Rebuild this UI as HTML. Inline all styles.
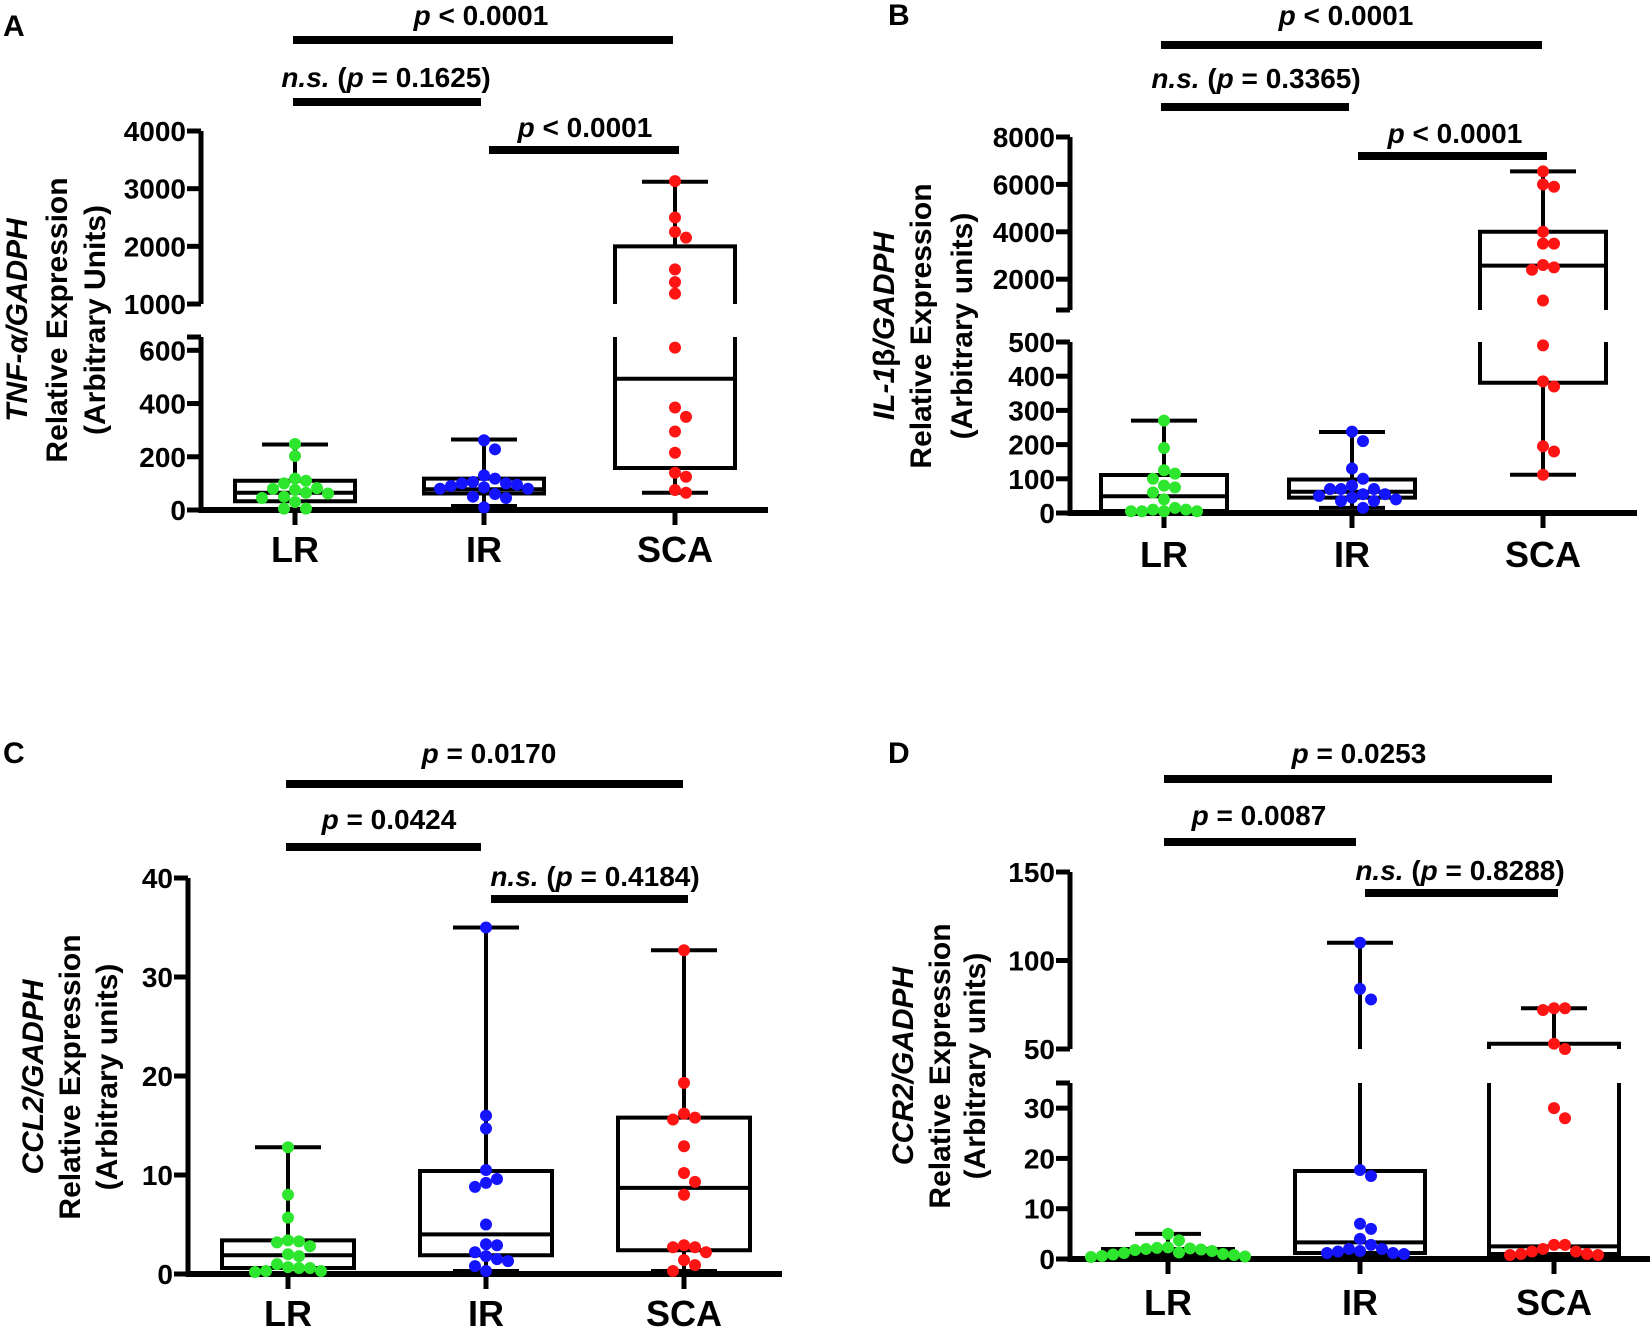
<!DOCTYPE html>
<html><head><meta charset="utf-8"><style>
html,body{margin:0;padding:0;background:#fff;}
svg{display:block;font-family:"Liberation Sans",sans-serif;font-weight:bold;}
</style></head><body>
<svg id="fig" width="1650" height="1330" viewBox="0 0 1650 1330" xmlns="http://www.w3.org/2000/svg"></svg>
<script>
// ===== DATA =====
const groups = ["LR","IR","SCA"];
// Panel A: TNF-alpha
const aTicks = [0,200,400,600,1000,2000,3000,4000];
const aLR  = [248,203,118,110,80,75,82,62,45,50,30,5,5,65,100];
const aIR  = [262,228,130,118,105,100,100,95,90,85,80,80,60,50,45,10];
const aSCA = [3130,2500,2250,2150,1600,1380,1180,610,385,350,295,215,140,125,75,65];
const aBoxLR  = [0,33,65,110,246];
const aBoxIR  = [15,62,78,118,265];
const aBoxSCA = [65,158,493,2000,3120];
// Panel B: IL-1beta
const bTicks = [0,100,200,300,400,500,2000,4000,6000,8000];
const bLR  = [270,190,125,115,100,75,80,60,40,15,10,5,5,5,5,10];
const bIR  = [238,210,130,100,80,70,55,40,35,50,45,55,70,70,15,35];
const bSCA = [6550,6000,5900,4000,3500,3500,2600,2500,2400,1100,490,385,370,195,180,112];
const bBoxLR  = [0,6,49,111,270];
const bBoxIR  = [15,45,62,98,237];
const bBoxSCA = [112,381,2570,4000,6550];
// Panel C: CCL2
const cTicks = [0,10,20,30,40];
const cLR  = [12.8,8,5.7,3.4,3.3,3.2,2.8,2,1.8,1,0.7,0.6,0.3,0.2,0.3,0.6];
const cIR  = [35,16,14.7,10.5,9.6,9.2,8.8,5,3,2.9,2.2,1.8,1.3,1.5,0.8,0.3];
const cSCA = [32.7,19.3,16.2,15.8,15.6,12.9,10.2,9.3,8,2.9,2.7,2.7,2.2,1.4,0.9,0.3];
const cBoxLR  = [0,0.6,1.9,3.4,12.8];
const cBoxIR  = [0.3,1.9,4.0,10.4,35];
const cBoxSCA = [0.3,2.4,8.7,15.8,32.7];
// Panel D: CCR2
const dTicks = [0,10,20,30,50,100,150];
const dLR  = [5,3.7,2.3,2.1,2,1.9,1.8,1.6,1.2,1,0.8,0.6,0.4,0.5,0.9,1.3,2.2];
const dIR  = [110,84,78,17.7,16.5,7,6,4,2.8,2,1.5,1.2,1,1.2,1.6,2];
const dSCA = [73,72,73,53,50,30,28,2.8,2,1.5,1,0.8,0.8,1,1.5,2.8];
const dBoxLR  = [0,1,1.5,2,5];
const dBoxIR  = [0.8,1.2,3.3,17.5,110];
const dBoxSCA = [0.5,1,2.5,53,73];

const colors = ["#2ee62e","#1414ff","#ff1414"];
const NS = "http://www.w3.org/2000/svg";
const svg = document.getElementById("fig");

function mk(tag, attrs, parent){
  const e = document.createElementNS(NS, tag);
  for (const k in attrs) e.setAttribute(k, attrs[k]);
  (parent||svg).appendChild(e);
  return e;
}

function drawPanel(P){
  const g = mk("g", {});
  
  
  const segs = P.segs;
  function yOf(v){
    for (const s of segs){ if (v >= s.lo - 1e-9 && v <= s.hi + 1e-9) return s.y0 + (v - s.lo)/(s.hi - s.lo)*(s.y1 - s.y0); }
    let best = null;
    for (const s of segs){ if (v < s.lo){ best = s.y0; break; } }
    return best === null ? segs[segs.length-1].y1 : best;
  }
  function vline(x, v1, v2, sw, parent, name){
    for (const s of segs){
      const a = Math.max(v1, s.lo), b = Math.min(v2, s.hi);
      if (a <= b){
        const l = mk("line", {x1:x, x2:x, y1:yOf(a), y2:yOf(b), stroke:"#000", "stroke-width":sw}, parent);
        
        
      }
    }
  }
  function inSeg(v){ return segs.some(s => v >= s.lo - 1e-9 && v <= s.hi + 1e-9); }
  const ax = P.axisX, y0 = segs[0].y0;
  const L = mk("text", {x:P.letter[0], y:P.letter[1], "font-size":30}, g);
  L.textContent = P.id;
  
  
  segs.forEach((s, i) => {
    const top = s.y1, bot = i === 0 ? y0 + 3 : s.y0;
    const l = mk("line", {x1:ax, x2:ax, y1:bot, y2:top, stroke:"#000", "stroke-width":5}, g);
    
    
    [s.y0, s.y1].forEach(yy => {
      if (i === 0 && yy === s.y0) return;
      const t = mk("line", {x1:ax-14, x2:ax, y1:yy, y2:yy, stroke:"#000", "stroke-width":5}, g);
      
      
    });
  });
  P.ticks.forEach(v => {
    const yy = yOf(v);
    const t = mk("line", {x1:ax-14, x2:ax, y1:yy, y2:yy, stroke:"#000", "stroke-width":5}, g);
    
    
    const tx = mk("text", {x:ax-15, y:yy+10, "text-anchor":"end", "font-size":28}, g);
    tx.textContent = String(v);
    
    
  });
  const xa = mk("line", {x1:ax-2, x2:P.xEnd, y1:y0, y2:y0, stroke:"#000", "stroke-width":6}, g);
  
  
  P.title.forEach((ln, i) => {
    const t = mk("text", {x:ln.x + 11, y:P.titleCY, "text-anchor":"middle", "font-size":30, transform:`rotate(-90 ${ln.x+11} ${P.titleCY})`}, g);
    t.innerHTML = ln.html;
    
    
  });
  groups.forEach((name, gi) => {
    const cx = P.cats[gi], hw = P.hw, box = P.boxes[gi], pts = P.points[gi];
    const gg = mk("g", {}, g);
    
    
    const tk = mk("line", {x1:cx, x2:cx, y1:y0, y2:y0+15, stroke:"#000", "stroke-width":5}, gg);
    
    
    const cl = mk("text", {x:cx, y:P.catY, "text-anchor":"middle", "font-size":36}, gg);
    cl.textContent = name;
    
    
    vline(cx, box[0], box[4], 4, gg, 'whisker');
    [box[0], box[4]].forEach(v => {
      if (!inSeg(v)) return;
      const c = mk("line", {x1:cx-33, x2:cx+33, y1:yOf(v), y2:yOf(v), stroke:"#000", "stroke-width":4}, gg);
      
      
    });
    for (const s of segs){
      const a = Math.max(box[1], s.lo), b = Math.min(box[3], s.hi);
      if (a <= b){
        const r = mk("rect", {x:cx-hw, y:yOf(b), width:2*hw, height:Math.max(0, yOf(a)-yOf(b)), fill:"#fff"}, gg);
        
        
      }
    }
    vline(cx-hw, box[1], box[3], 4, gg, 'box-side');
    vline(cx+hw, box[1], box[3], 4, gg, 'box-side');
    [[box[1],'box-q1'],[box[2],'box-median'],[box[3],'box-q3']].forEach(([v,nm]) => {
      if (!inSeg(v)) return;
      const l = mk("line", {x1:cx-hw-2, x2:cx+hw+2, y1:yOf(v), y2:yOf(v), stroke:"#000", "stroke-width":4}, gg);
      
      
    });
    const placed = [], d = 11;
    const order = pts.map((v,i)=>i).sort((a,b)=>pts[b]-pts[a]);
    order.forEach(i => {
      const py = yOf(pts[i]);
      let off = 0;
      for (let k = 0; k < 40; k++){
        const cand = k === 0 ? 0 : (k % 2 ? 1 : -1) * Math.ceil(k/2) * d;
        if (!placed.some(p => Math.hypot(p[0]-(cx+cand), p[1]-py) < d)) { off = cand; break; }
      }
      placed.push([cx+off, py]);
      const c = mk("circle", {cx:cx+off, cy:py, r:6, fill:colors[gi]}, gg);
      
      
    });
  });
  P.sig.forEach(s => {
    const r = mk("rect", {x:s.x1, y:s.y-4, width:s.x2-s.x1, height:8, fill:"#000"}, g);
    
    
    const t = mk("text", {x:s.tx, y:s.ty, "text-anchor":"middle", "font-size":28}, g);
    t.innerHTML = s.html;
    
    
  });
}

const P_LT = '<tspan font-style="italic">p</tspan> &lt; 0.0001';
function ns(v){ return '<tspan font-style="italic">n.s.</tspan> (<tspan font-style="italic">p</tspan> = ' + v + ')'; }
function peq(v){ return '<tspan font-style="italic">p</tspan> = ' + v; }

drawPanel({id:"A", letter:[3,36], axisX:201, xEnd:768, cats:[295,484,675], hw:60, catY:562,
  segs:[{lo:0,hi:650,y0:510,y1:337},{lo:1000,hi:4000,y0:304,y1:131}],
  ticks:aTicks, boxes:[aBoxLR,aBoxIR,aBoxSCA], points:[aLR,aIR,aSCA],
  titleCY:320, title:[{x:16,html:'<tspan font-style="italic">TNF-α/GADPH</tspan>'},{x:56,html:'Relative Expression'},{x:94,html:'(Arbitrary Units)'}],
  sig:[{x1:293,x2:673,y:40,tx:481,ty:25,html:P_LT},{x1:293,x2:481,y:102,tx:386,ty:87,html:ns('0.1625')},{x1:489,x2:679,y:150,tx:585,ty:137,html:P_LT}]});

drawPanel({id:"B", letter:[888,25], axisX:1070, xEnd:1637, cats:[1164,1352,1543], hw:63, catY:567,
  segs:[{lo:0,hi:500,y0:513,y1:342},{lo:700,hi:8000,y0:310,y1:137}],
  ticks:bTicks, boxes:[bBoxLR,bBoxIR,bBoxSCA], points:[bLR,bIR,bSCA],
  titleCY:326, title:[{x:883,html:'<tspan font-style="italic">IL-1</tspan>β<tspan font-style="italic">/GADPH</tspan>'},{x:920,html:'Relative Expression'},{x:961,html:'(Arbitrary units)'}],
  sig:[{x1:1161,x2:1542,y:45,tx:1346,ty:25,html:P_LT},{x1:1161,x2:1349,y:107,tx:1256,ty:88,html:ns('0.3365')},{x1:1358,x2:1547,y:156,tx:1455,ty:143,html:P_LT}]});

drawPanel({id:"C", letter:[3,763], axisX:188, xEnd:782, cats:[288,486,684], hw:66, catY:1326,
  segs:[{lo:0,hi:40,y0:1274,y1:878}],
  ticks:cTicks, boxes:[cBoxLR,cBoxIR,cBoxSCA], points:[cLR,cIR,cSCA],
  titleCY:1077, title:[{x:32,html:'<tspan font-style="italic">CCL2/GADPH</tspan>'},{x:69,html:'Relative Expression'},{x:106,html:'(Arbitrary units)'}],
  sig:[{x1:286,x2:683,y:784,tx:489,ty:763,html:peq('0.0170')},{x1:286,x2:481,y:847,tx:389,ty:829,html:peq('0.0424')},{x1:491,x2:688,y:899,tx:595,ty:886,html:ns('0.4184')}]});

drawPanel({id:"D", letter:[888,763], axisX:1070, xEnd:1650, cats:[1168,1360,1554], hw:65, catY:1315,
  segs:[{lo:0,hi:35,y0:1259,y1:1083},{lo:50,hi:150,y0:1049,y1:872}],
  ticks:dTicks, boxes:[dBoxLR,dBoxIR,dBoxSCA], points:[dLR,dIR,dSCA],
  titleCY:1066, title:[{x:902,html:'<tspan font-style="italic">CCR2/GADPH</tspan>'},{x:939,html:'Relative Expression'},{x:974,html:'(Arbitrary units)'}],
  sig:[{x1:1164,x2:1552,y:779,tx:1359,ty:763,html:peq('0.0253')},{x1:1164,x2:1356,y:842,tx:1259,ty:825,html:peq('0.0087')},{x1:1365,x2:1558,y:893,tx:1460,ty:880,html:ns('0.8288')}]});
</script>
</body></html>
